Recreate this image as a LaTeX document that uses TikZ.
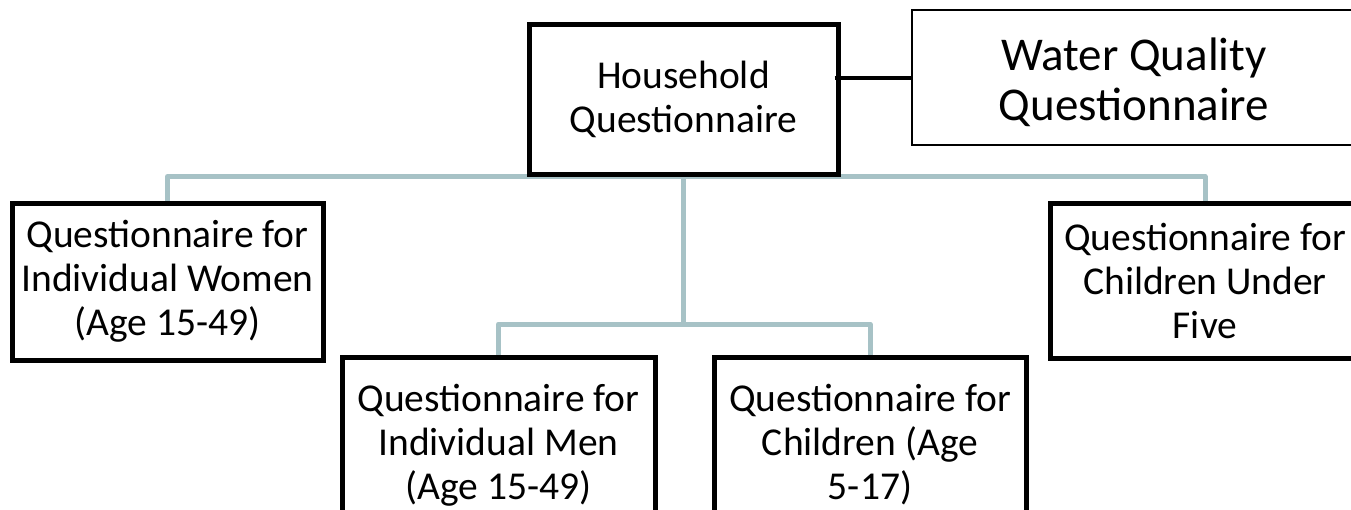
\documentclass[tikz,border=0pt]{standalone}
\usepackage{fontspec}
\setmainfont{Carlito}
\usetikzlibrary{backgrounds}
\definecolor{linkgray}{RGB}{167,194,198}
\tikzset{
  qbox/.style={draw=black, line width=5pt, fill=white, rectangle, align=center,
    inner sep=0pt, font=\fontsize{39.5}{44}\selectfont},
  wqbox/.style={draw=black, line width=2pt, fill=white, rectangle, align=center,
    inner sep=0pt, font=\fontsize{47}{51}\selectfont},
  link/.style={draw=linkgray, line width=5pt, line join=round},
  blink/.style={draw=black, line width=4pt}
}
\begin{document}
\begin{tikzpicture}[x=1pt,y=-1pt]
\useasboundingbox (0,0) rectangle (1351,509);
\node[qbox, minimum width=309pt, minimum height=150pt] (hh) at (683.5,99) {Household\\Questionnaire};
\node[wqbox, minimum width=444pt, minimum height=135pt] (wq) at (1134,77.5) {\raisebox{-8pt}[\height][\depth]{\begin{tabular}{@{}c@{}}Water Quality\\[-1pt]Questionnaire\end{tabular}}};
\node[qbox, minimum width=311pt, minimum height=157pt] (women) at (167.5,281.5) {Questionnaire for\\Individual Women\\(Age 15-49)};
\node[qbox, minimum width=310pt, minimum height=155pt] (u5) at (1205,280.5) {Questionnaire for\\Children Under\\Five};
\node[qbox, minimum width=313pt, minimum height=176pt] (men) at (498.5,445) {Questionnaire for\\Individual Men\\(Age 15-49)};
\node[qbox, minimum width=312pt, minimum height=176pt] (child) at (870,445) {Questionnaire for\\Children (Age\\5-17)};
\coordinate (j) at (683.5,324);
\begin{scope}[on background layer]
\draw[link] (women.north) -- (women.north |- hh.south) -- (u5.north |- hh.south) -- (u5.north);
\draw[link] (hh.south) -- (j);
\draw[link] (men.north) -- (men.north |- j) -- (child.north |- j) -- (child.north);
\end{scope}
\draw[blink] (hh.east |- wq.west) ++(-6,0) -- (wq.west);
\end{tikzpicture}
\end{document}
